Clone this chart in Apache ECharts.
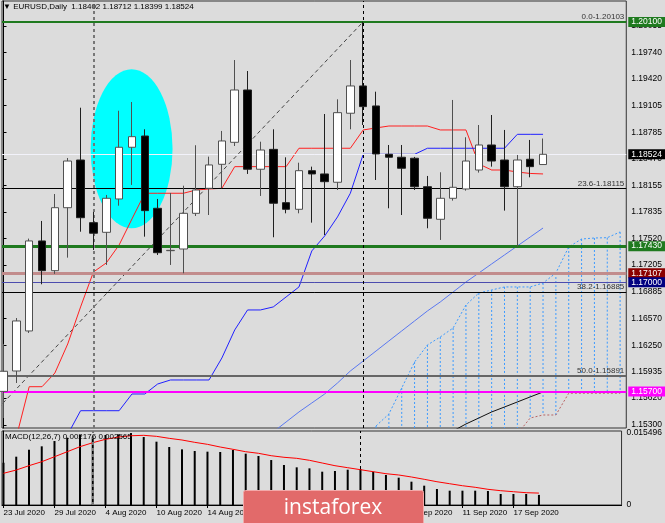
<!DOCTYPE html>
<html>
<head>
<meta charset="utf-8">
<title>EURUSD Daily</title>
<script src="https://cdn.jsdelivr.net/npm/echarts@6/dist/echarts.min.js"></script>
<style>
  html, body { margin: 0; padding: 0; background: #dcdcdc; }
  #chart { width: 665px; height: 523px; }
</style>
</head>
<body>
<div id="chart"></div>
<script>
// bar 0 = 23 Jul 2020, bar 42 = last (current) bar
var opens  = [1.15700, 1.15943, 1.16420, 1.17492, 1.17138, 1.17888, 1.18456, 1.17710, 1.17595, 1.17992,
              1.18608, 1.18742, 1.17881, 1.17376, 1.17396, 1.17821, 1.18119, 1.18405, 1.18667, 1.19290,
              1.18346, 1.18583, 1.17948, 1.17869, 1.18329, 1.18290, 1.18191, 1.19013, 1.19338, 1.19100,
              1.18524, 1.18489, 1.18477, 1.18138, 1.17750, 1.18000, 1.18111, 1.18337, 1.18635, 1.18456,
              1.18138, 1.18465, 1.18402];
var highs  = [1.16265, 1.16574, 1.17520, 1.17730, 1.18051, 1.18480, 1.19079, 1.17837, 1.18040, 1.19043,
              1.19147, 1.18822, 1.17992, 1.18064, 1.18150, 1.18632, 1.18496, 1.18802, 1.19647, 1.19516,
              1.18674, 1.18822, 1.18488, 1.18424, 1.18377, 1.19004, 1.19179, 1.19647, 1.20103, 1.19270,
              1.18635, 1.18635, 1.18493, 1.18266, 1.18310, 1.19171, 1.18727, 1.18873, 1.18992, 1.18814,
              1.18516, 1.18695, 1.18712];
var lows   = [1.15383, 1.15800, 1.16396, 1.16976, 1.17100, 1.17293, 1.17602, 1.17384, 1.17206, 1.17912,
              1.18159, 1.17543, 1.17325, 1.17206, 1.17107, 1.17789, 1.17801, 1.18119, 1.18623, 1.18290,
              1.18028, 1.17536, 1.17821, 1.17821, 1.17710, 1.17563, 1.18099, 1.18822, 1.18873, 1.18218,
              1.17881, 1.17801, 1.18099, 1.17643, 1.17504, 1.17972, 1.18091, 1.18306, 1.18377, 1.17853,
              1.17424, 1.18250, 1.18399];
var closes = [1.15940, 1.16539, 1.17492, 1.17138, 1.17888, 1.18444, 1.17769, 1.17584, 1.18000, 1.18608,
              1.18734, 1.17853, 1.17352, 1.17380, 1.17821, 1.18099, 1.18397, 1.18683, 1.19290, 1.18346,
              1.18575, 1.17941, 1.17869, 1.18329, 1.18290, 1.18198, 1.19020, 1.19338, 1.19092, 1.18528,
              1.18489, 1.18358, 1.18138, 1.17762, 1.18000, 1.18131, 1.18444, 1.18635, 1.18444, 1.18138,
              1.18456, 1.18377, 1.18524];

var tenkan = [1.15157, 1.15157, 1.15756, 1.15756, 1.15919, 1.16265, 1.16706, 1.17122, 1.17230, 1.17444,
              1.17754, 1.18060, 1.18060, 1.18060, 1.18060, 1.18099, 1.18111, 1.18119, 1.18377, 1.18377,
              1.18377, 1.18377, 1.18377, 1.18596, 1.18596, 1.18596, 1.18596, 1.18596, 1.18814, 1.18838,
              1.18861, 1.18861, 1.18861, 1.18861, 1.18814, 1.18814, 1.18814, 1.18409, 1.18337, 1.18337,
              1.18313, 1.18296, 1.18290];
var kijun  = [1.15187, 1.15187, 1.15187, 1.15187, 1.15187, 1.15187, 1.15470, 1.15470, 1.15470, 1.15470,
              1.15669, 1.15669, 1.15788, 1.15836, 1.15836, 1.15836, 1.15836, 1.16098, 1.16432, 1.16670,
              1.16670, 1.16706, 1.16825, 1.16944, 1.17373, 1.17551, 1.17778, 1.18060, 1.18524, 1.18524,
              1.18524, 1.18524, 1.18524, 1.18596, 1.18596, 1.18596, 1.18596, 1.18596, 1.18596, 1.18596,
              1.18762, 1.18762, 1.18762];

// cloud, shifted forward: first value sits on bar 29
var cloudStart = 29;
var senkouA = [1.15288, 1.15431, 1.15741, 1.16050, 1.16253, 1.16348, 1.16455, 1.16729, 1.16872, 1.16908,
               1.16944, 1.16944, 1.16944, 1.16991, 1.17110, 1.17420, 1.17515, 1.17527, 1.17531, 1.17599];
var senkouB = [1.15050, 1.15050, 1.15050, 1.15050, 1.15050, 1.15050, 1.15050, 1.15050, 1.15050, 1.15050,
               1.15050, 1.15193, 1.15383, 1.15419, 1.15419, 1.15678, 1.15678, 1.15678, 1.15678, 1.15678];

// slow blue line starts on bar 21, black line on bar 35
var slowStart = 21;
var slowLine = [1.15217, 1.15336, 1.15455, 1.15562, 1.15669, 1.15800, 1.15943, 1.16062, 1.16181, 1.16301,
                1.16420, 1.16539, 1.16658, 1.16765, 1.16884, 1.17003, 1.17110, 1.17218, 1.17325, 1.17432,
                1.17539, 1.17646];
var blackStart = 35;
var blackLine = [1.15229, 1.15312, 1.15383, 1.15455, 1.15514, 1.15574, 1.15634, 1.15693];

var macdHist = [0.00910, 0.01040, 0.01190, 0.01263, 0.01377, 0.01449, 0.01507, 0.01470, 0.01507, 0.01521,
                0.01549, 0.01463, 0.01363, 0.01248, 0.01198, 0.01162, 0.01148, 0.01141, 0.01184, 0.01105,
                0.01055, 0.00968, 0.00861, 0.00811, 0.00789, 0.00717, 0.00732, 0.00760, 0.00775, 0.00717,
                0.00646, 0.00588, 0.00502, 0.00416, 0.00344, 0.00308, 0.00308, 0.00308, 0.00301, 0.00237,
                0.00237, 0.00237, 0.002176];
var macdSignal = [0.00682, 0.00753, 0.00846, 0.00932, 0.01039, 0.01147, 0.01255, 0.01341, 0.01414, 0.01463,
                  0.01491, 0.01500, 0.01478, 0.01435, 0.01399, 0.01349, 0.01306, 0.01248, 0.01199, 0.01147,
                  0.01113, 0.01061, 0.01027, 0.01005, 0.00962, 0.00904, 0.00846, 0.00803, 0.00760, 0.00717,
                  0.00674, 0.00646, 0.00603, 0.00553, 0.00501, 0.00458, 0.00415, 0.00381, 0.00338, 0.00308,
                  0.00286, 0.00265, 0.002565];
var macdTop = 0.015496;

var priceTicks = [1.20055, 1.19740, 1.19420, 1.19105, 1.18785, 1.18470, 1.18155, 1.17835, 1.17520,
                  1.17205, 1.16885, 1.16570, 1.16250, 1.15935, 1.15620, 1.15300];
var tickBars  = [0, 4, 8, 12, 16, 20, 24, 28, 32, 36, 40];
var tickDates = ['23 Jul 2020', '29 Jul 2020', '4 Aug 2020', '10 Aug 2020', '14 Aug 2020', '20 Aug 2020',
                 '26 Aug 2020', '1 Sep 2020', '7 Sep 2020', '11 Sep 2020', '17 Sep 2020'];

// horizontal levels drawn on the chart
var levelPrices = [1.20100, 1.17430, 1.17107, 1.17000, 1.15700];
var fibNames  = ['0.0', '23.6', '38.2', '50.0'];
var fibPrices = [1.20103, 1.18115, 1.16885, 1.15891];
var fibAnchorBars   = [-24, 28];
var fibAnchorPrices = [1.11679, 1.20103];
var markerBars = [7, 28];
// highlighted zone: centre bar, centre price, half width (bars), half height (price)
var zone = [9.97, 1.18590, 3.19, 0.00947];

var levelStyles = [
  { line: '#1f7a1f', width: 2, box: '#1f7a1f' },
  { line: '#1f7a1f', width: 3, box: '#1f7a1f' },
  { line: '#c28c8c', width: 3, box: '#8b0000' },
  { line: '#4c4cae', width: 1, box: '#000080' },
  { line: '#ff00ff', width: 2, box: '#ff00ff' }
];
var fibStyles = [
  { color: '#1f7a1f', width: 1 },
  { color: '#000000', width: 1 },
  { color: '#000000', width: 1 },
  { color: '#666666', width: 2 }
];
var markerStyles = [
  { color: '#777777', width: 2 },
  { color: '#000000', width: 1 }
];

var FONT = 'Liberation Sans';
var xMin = -0.117, xMax = 48.48;
var last = closes.length - 1;

function barsFrom(start, values) {
  return values.map(function (v, i) { return [start + i, v]; });
}

var candleData = closes.map(function (c, i) {
  return [i, opens[i], c, lows[i], highs[i]];
});

var levelMarks = [];
fibPrices.forEach(function (p, i) {
  levelMarks.push({
    yAxis: p,
    lineStyle: { color: fibStyles[i].color, width: fibStyles[i].width, type: 'solid' },
    label: { show: true, position: 'insideEndTop', distance: [2, 1], formatter: fibNames[i] + '-' + p.toFixed(5),
             color: '#333', fontSize: 8, fontFamily: FONT }
  });
});
levelPrices.forEach(function (p, i) {
  levelMarks.push({
    yAxis: p,
    lineStyle: { color: levelStyles[i].line, width: levelStyles[i].width, type: 'solid' },
    label: { show: true, position: 'end', distance: 2, formatter: p.toFixed(5), color: '#fff',
             backgroundColor: levelStyles[i].box, padding: [1, 3, 0, 3], fontSize: 8.5, fontFamily: FONT }
  });
});
// bid line
levelMarks.push({
  yAxis: closes[last],
  lineStyle: { color: '#f2f2fa', width: 1, type: 'solid' },
  label: { show: true, position: 'end', distance: 2, formatter: closes[last].toFixed(5), color: '#fff',
           backgroundColor: '#000', padding: [1, 3, 0, 3], fontSize: 8.5, fontFamily: FONT }
});
var verticalMarks = markerBars.map(function (b, i) {
  return { xAxis: b, lineStyle: { color: markerStyles[i].color, width: markerStyles[i].width, type: [3, 3] } };
});

var chart = echarts.init(document.getElementById('chart'));

var option = {
  animation: false,
  backgroundColor: '#dcdcdc',
  textStyle: { fontFamily: FONT },
  title: [
    {
      text: '\u25BC EURUSD,Daily  ' + [opens[last], highs[last], lows[last], closes[last]].map(function (v) { return v.toFixed(5); }).join(' '),
      left: 3, top: 3, padding: 0,
      textStyle: { fontSize: 8, fontWeight: 'normal', color: '#000', fontFamily: FONT }
    },
    {
      text: 'MACD(12,26,7) ' + macdHist[last].toFixed(6) + ' ' + macdSignal[last].toFixed(6),
      left: 5, top: 433, padding: 0,
      textStyle: { fontSize: 8, fontWeight: 'normal', color: '#000', fontFamily: FONT }
    }
  ],
  grid: [
    { left: 2, right: 38, top: 1, height: 427, show: true, borderColor: '#333', borderWidth: 1 },
    { left: 2, right: 38, top: 431, height: 74, show: true, borderColor: '#333', borderWidth: 1 }
  ],
  xAxis: [
    { type: 'value', gridIndex: 0, min: xMin, max: xMax, show: false, splitLine: { show: false } },
    {
      type: 'value', gridIndex: 1, min: xMin, max: xMax, position: 'bottom',
      splitLine: { show: false },
      axisLine: { show: true, lineStyle: { color: '#000' } },
      axisTick: { show: true, length: 3, customValues: tickBars, lineStyle: { color: '#000' } },
      axisLabel: {
        customValues: tickBars, align: 'left', margin: 4, fontSize: 8, color: '#000', fontFamily: FONT,
        formatter: function (v) { return tickDates[tickBars.indexOf(Math.round(v))]; }
      }
    }
  ],
  yAxis: [
    {
      type: 'value', gridIndex: 0, position: 'right', min: 1.15264, max: 1.20350,
      splitLine: { show: false },
      axisLine: { show: true, lineStyle: { color: '#000' } },
      axisTick: { show: true, length: 3, customValues: priceTicks, lineStyle: { color: '#000' } },
      axisLabel: { customValues: priceTicks, margin: 5, fontSize: 8.5, color: '#000', fontFamily: FONT,
                   formatter: function (v) { return v.toFixed(5); } }
    },
    {
      type: 'value', gridIndex: 1, position: 'right', min: 0, max: 0.01593,
      splitLine: { show: false },
      axisLine: { show: true, lineStyle: { color: '#000' } },
      axisTick: { show: false },
      axisLabel: { customValues: [0, macdTop], margin: 5, fontSize: 8.5, color: '#000', fontFamily: FONT,
                   formatter: function (v) { return v === 0 ? '0' : v.toFixed(6); } }
    }
  ],
  graphic: [
    {
      type: 'rect', left: 243, top: 490, z: 100,
      shape: { width: 180, height: 40, r: 2 },
      style: { fill: '#e26a6a', stroke: '#f3a9a9', lineWidth: 1 }
    },
    {
      type: 'text', x: 333, y: 508, z: 101,
      style: { text: 'instaforex', fill: '#ffffff', font: '21px "Open Sans"', textAlign: 'center', textVerticalAlign: 'middle' }
    }
  ],
  series: [
    {
      name: 'zone', type: 'custom', xAxisIndex: 0, yAxisIndex: 0, z: 1, silent: true,
      data: [zone],
      encode: { x: 0, y: 1 },
      renderItem: function (params, api) {
        var c = api.coord([api.value(0), api.value(1)]);
        var s = api.size([api.value(2), api.value(3)]);
        return { type: 'circle', x: c[0], y: c[1], scaleY: s[1] / s[0],
                 shape: { cx: 0, cy: 0, r: s[0] }, style: { fill: '#00ffff' } };
      }
    },
    {
      name: 'cloud', type: 'custom', xAxisIndex: 0, yAxisIndex: 0, z: 2, clip: true, silent: true,
      data: senkouA.map(function (a, i) { return [cloudStart + i, a, senkouB[i]]; }),
      encode: { x: 0, y: [1, 2] },
      renderItem: function (params, api) {
        var t = api.coord([api.value(0), api.value(1)]);
        var b = api.coord([api.value(0), api.value(2)]);
        return { type: 'line', shape: { x1: t[0], y1: t[1], x2: b[0], y2: b[1] },
                 style: { stroke: '#3d9bff', lineWidth: 1, lineDash: [2, 2] } };
      }
    },
    {
      name: 'Senkou A', type: 'line', xAxisIndex: 0, yAxisIndex: 0, z: 2, showSymbol: false, silent: true,
      data: barsFrom(cloudStart, senkouA),
      lineStyle: { color: '#3d9bff', width: 1, type: [2, 2] }
    },
    {
      name: 'Senkou B', type: 'line', xAxisIndex: 0, yAxisIndex: 0, z: 2, showSymbol: false, silent: true,
      data: barsFrom(cloudStart, senkouB),
      lineStyle: { color: '#b86464', width: 1, type: [2, 2] }
    },
    {
      name: 'slow', type: 'line', xAxisIndex: 0, yAxisIndex: 0, z: 2, showSymbol: false, silent: true,
      data: barsFrom(slowStart, slowLine),
      lineStyle: { color: '#5a78f0', width: 1 }
    },
    {
      name: 'black', type: 'line', xAxisIndex: 0, yAxisIndex: 0, z: 2, showSymbol: false, silent: true,
      data: barsFrom(blackStart, blackLine),
      lineStyle: { color: '#111', width: 1 }
    },
    {
      name: 'fib', type: 'line', xAxisIndex: 0, yAxisIndex: 0, z: 2, showSymbol: false, silent: true,
      data: fibAnchorBars.map(function (b, i) { return [b, fibAnchorPrices[i]]; }),
      lineStyle: { color: '#444', width: 1, type: [4, 3] }
    },
    {
      name: 'levels', type: 'line', xAxisIndex: 0, yAxisIndex: 0, z: 3, silent: true,
      data: [],
      markLine: { symbol: 'none', silent: true, precision: 5, label: { show: false },
                  data: levelMarks.concat(verticalMarks) }
    },
    {
      name: 'Tenkan', type: 'line', xAxisIndex: 0, yAxisIndex: 0, z: 4, showSymbol: false, silent: true,
      data: barsFrom(0, tenkan),
      lineStyle: { color: '#ff2020', width: 1 }
    },
    {
      name: 'Kijun', type: 'line', xAxisIndex: 0, yAxisIndex: 0, z: 4, showSymbol: false, silent: true,
      data: barsFrom(0, kijun),
      lineStyle: { color: '#2020ff', width: 1 }
    },
    {
      name: 'EURUSD', type: 'candlestick', xAxisIndex: 0, yAxisIndex: 0, z: 5,
      data: candleData,
      encode: { x: 0, y: [1, 2, 3, 4] },
      barWidth: 8,
      itemStyle: { color: '#ffffff', color0: '#000000', borderColor: '#505050', borderColor0: '#202020', borderWidth: 1 }
    },
    {
      name: 'MACD', type: 'bar', xAxisIndex: 1, yAxisIndex: 1, z: 3,
      data: barsFrom(0, macdHist),
      barWidth: 2,
      itemStyle: { color: '#000' },
      markLine: { symbol: 'none', silent: true, precision: 5, label: { show: false }, data: verticalMarks }
    },
    {
      name: 'Signal', type: 'line', xAxisIndex: 1, yAxisIndex: 1, z: 4, showSymbol: false, silent: true,
      data: barsFrom(0, macdSignal),
      lineStyle: { color: '#ff0000', width: 1 }
    }
  ]
};

chart.setOption(option);
</script>
</body>
</html>
